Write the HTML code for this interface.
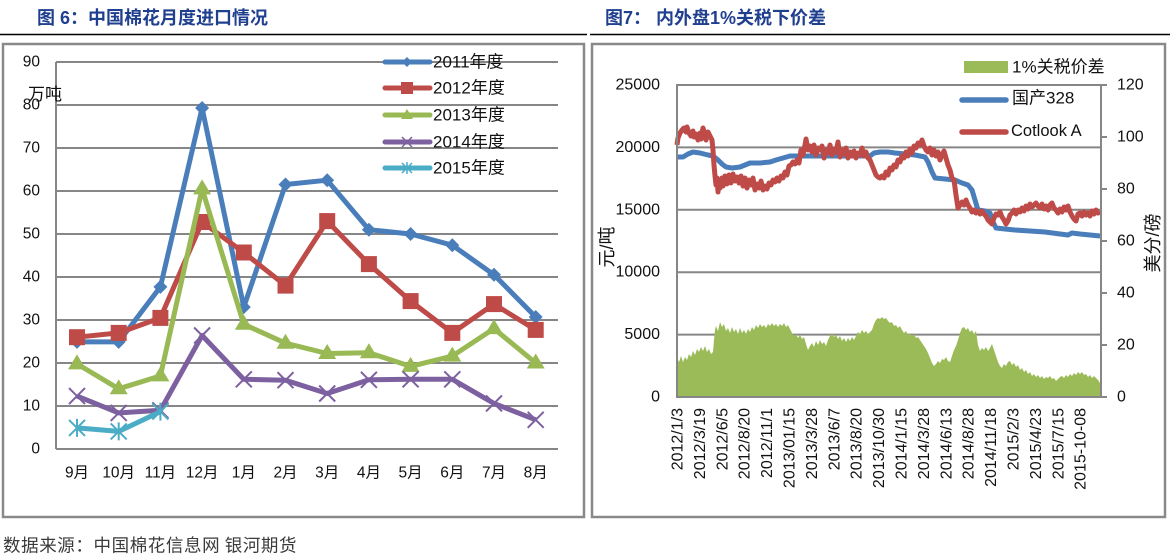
<!DOCTYPE html>
<html><head><meta charset="utf-8"><style>
html,body{margin:0;padding:0;background:#fff;}
body{width:1170px;height:556px;overflow:hidden;}
svg{display:block;}
text{font-family:"Liberation Sans","Noto Sans CJK SC",sans-serif;fill:#111;}
.t{font-size:18px;font-weight:bold;fill:#1f3f8f;}
.tk{font-size:15.5px;}
.tk2{font-size:16px;}
.lg{font-size:17px;}
</style></head><body>
<svg width="1170" height="556" viewBox="0 0 1170 556" xmlns="http://www.w3.org/2000/svg">
<!-- titles -->
<text class="t" x="37" y="24" xml:space="preserve">图 6：中国棉花月度进口情况</text>
<text class="t" x="605" y="24" xml:space="preserve">图7： 内外盘1%关税下价差</text>
<line x1="0" y1="34.5" x2="587" y2="34.5" stroke="#000" stroke-width="1.6"/>
<line x1="590" y1="34.5" x2="1170" y2="34.5" stroke="#000" stroke-width="1.6"/>

<!-- LEFT CHART -->
<rect x="3" y="44" width="581" height="473" fill="#fff" stroke="#898989" stroke-width="2.5"/>
<g stroke="#868686" stroke-width="2">
<line x1="56" y1="449" x2="558" y2="449"/>
<line x1="56" y1="406" x2="558" y2="406"/>
<line x1="56" y1="363" x2="558" y2="363"/>
<line x1="56" y1="320" x2="558" y2="320"/>
<line x1="56" y1="277" x2="558" y2="277"/>
<line x1="56" y1="234" x2="558" y2="234"/>
<line x1="56" y1="191" x2="558" y2="191"/>
<line x1="56" y1="148" x2="558" y2="148"/>
<line x1="56" y1="105" x2="558" y2="105"/>
<line x1="56" y1="62" x2="558" y2="62"/>
<line x1="56" y1="62" x2="56" y2="449"/>
</g>
<g class="tk" text-anchor="end" dominant-baseline="central">
<text x="40" y="449">0</text><text x="40" y="406">10</text><text x="40" y="363">20</text>
<text x="40" y="320">30</text><text x="40" y="277">40</text><text x="40" y="234">50</text>
<text x="40" y="191">60</text><text x="40" y="148">70</text><text x="40" y="105">80</text>
<text x="40" y="62">90</text>
</g>
<text x="28" y="100" font-size="17">万吨</text>
<g class="tk" text-anchor="middle" dominant-baseline="central">
<text x="77" y="473">9月</text><text x="118.7" y="473">10月</text><text x="160.4" y="473">11月</text>
<text x="202.1" y="473">12月</text><text x="243.8" y="473">1月</text><text x="285.5" y="473">2月</text>
<text x="327.2" y="473">3月</text><text x="368.9" y="473">4月</text><text x="410.6" y="473">5月</text>
<text x="452.3" y="473">6月</text><text x="494" y="473">7月</text><text x="535.7" y="473">8月</text>
</g>

<!-- 2011 blue -->
<polyline fill="none" stroke="#4A7EBB" stroke-width="5" stroke-linejoin="round" points="77,341.9 118.7,341.9 160.4,286.9 202.1,108 243.8,307.1 285.5,184.5 327.2,180.2 368.9,229.7 410.6,234 452.3,245.2 494,274.8 535.7,317"/>
<g fill="#4A7EBB">
<path d="M77,334.9l7,7l-7,7l-7,-7z"/><path d="M118.7,334.9l7,7l-7,7l-7,-7z"/>
<path d="M160.4,279.9l7,7l-7,7l-7,-7z"/><path d="M202.1,101l7,7l-7,7l-7,-7z"/>
<path d="M243.8,300.1l7,7l-7,7l-7,-7z"/><path d="M285.5,177.5l7,7l-7,7l-7,-7z"/>
<path d="M327.2,173.2l7,7l-7,7l-7,-7z"/><path d="M368.9,222.7l7,7l-7,7l-7,-7z"/>
<path d="M410.6,227l7,7l-7,7l-7,-7z"/><path d="M452.3,238.2l7,7l-7,7l-7,-7z"/>
<path d="M494,267.8l7,7l-7,7l-7,-7z"/><path d="M535.7,310l7,7l-7,7l-7,-7z"/>
</g>
<!-- 2012 red -->
<polyline fill="none" stroke="#BE4B48" stroke-width="5" stroke-linejoin="round" points="77,337.2 118.7,332.9 160.4,317.9 202.1,222 243.8,252.5 285.5,285.6 327.2,221.1 368.9,264.1 410.6,301.1 452.3,332.9 494,304.1 535.7,329.9"/>
<g fill="#BE4B48">
<rect x="69" y="329.2" width="16" height="16"/><rect x="110.7" y="324.9" width="16" height="16"/>
<rect x="152.4" y="309.9" width="16" height="16"/><rect x="194.1" y="214" width="16" height="16"/>
<rect x="235.8" y="244.5" width="16" height="16"/><rect x="277.5" y="277.6" width="16" height="16"/>
<rect x="319.2" y="213.1" width="16" height="16"/><rect x="360.9" y="256.1" width="16" height="16"/>
<rect x="402.6" y="293.1" width="16" height="16"/><rect x="444.3" y="324.9" width="16" height="16"/>
<rect x="486" y="296.1" width="16" height="16"/><rect x="527.7" y="321.9" width="16" height="16"/>
</g>
<!-- 2013 green -->
<polyline fill="none" stroke="#98B954" stroke-width="5" stroke-linejoin="round" points="77,363.9 118.7,388.8 160.4,375.9 202.1,188.9 243.8,324.3 285.5,343.2 327.2,353.5 368.9,352.7 410.6,366.4 452.3,356.1 494,328.6 535.7,363"/>
<g fill="#98B954">
<path d="M77,354.4l9,15h-18z"/><path d="M118.7,379.3l9,15h-18z"/>
<path d="M160.4,366.4l9,15h-18z"/><path d="M202.1,179.4l9,15h-18z"/>
<path d="M243.8,314.8l9,15h-18z"/><path d="M285.5,333.7l9,15h-18z"/>
<path d="M327.2,344l9,15h-18z"/><path d="M368.9,343.2l9,15h-18z"/>
<path d="M410.6,356.9l9,15h-18z"/><path d="M452.3,346.6l9,15h-18z"/>
<path d="M494,319.1l9,15h-18z"/><path d="M535.7,353.5l9,15h-18z"/>
</g>
<!-- 2014 purple -->
<polyline fill="none" stroke="#7D60A0" stroke-width="5" stroke-linejoin="round" points="77,396.1 118.7,412.9 160.4,410.3 202.1,335.5 243.8,379.3 285.5,380.2 327.2,393.5 368.9,379.8 410.6,379.3 452.3,379.3 494,403.4 535.7,419.8"/>
<g stroke="#7D60A0" stroke-width="2" fill="none">
<path d="M69,388.1l16,16M85,388.1l-16,16"/><path d="M110.7,404.9l16,16M126.7,404.9l-16,16"/>
<path d="M152.4,402.3l16,16M168.4,402.3l-16,16"/><path d="M194.1,327.5l16,16M210.1,327.5l-16,16"/>
<path d="M235.8,371.3l16,16M251.8,371.3l-16,16"/><path d="M277.5,372.2l16,16M293.5,372.2l-16,16"/>
<path d="M319.2,385.5l16,16M335.2,385.5l-16,16"/><path d="M360.9,371.8l16,16M376.9,371.8l-16,16"/>
<path d="M402.6,371.3l16,16M418.6,371.3l-16,16"/><path d="M444.3,371.3l16,16M460.3,371.3l-16,16"/>
<path d="M486,395.4l16,16M502,395.4l-16,16"/><path d="M527.7,411.8l16,16M543.7,411.8l-16,16"/>
</g>
<!-- 2015 cyan -->
<polyline fill="none" stroke="#4BACC6" stroke-width="5" stroke-linejoin="round" points="77,427.9 118.7,431.4 160.4,411.6"/>
<g stroke="#4BACC6" stroke-width="2" fill="none">
<path d="M69,419.9l16,16M85,419.9l-16,16M77,418.9v18"/>
<path d="M110.7,423.4l16,16M126.7,423.4l-16,16M118.7,422.4v18"/>
<path d="M152.4,403.6l16,16M168.4,403.6l-16,16M160.4,402.6v18"/>
</g>
<!-- legend left -->
<g stroke-width="5" stroke-linecap="round">
<line x1="385" y1="62" x2="430" y2="62" stroke="#4A7EBB"/>
<line x1="385" y1="88" x2="430" y2="88" stroke="#BE4B48"/>
<line x1="385" y1="115" x2="430" y2="115" stroke="#98B954"/>
<line x1="385" y1="142" x2="430" y2="142" stroke="#7D60A0"/>
<line x1="385" y1="168" x2="430" y2="168" stroke="#4BACC6"/>
</g>
<path d="M407,57l5,5l-5,5l-5,-5z" fill="#4A7EBB"/>
<rect x="401" y="82" width="12" height="12" fill="#BE4B48"/>
<path d="M407,109l6,10h-12z" fill="#98B954"/>
<path d="M402,137l10,10M412,137l-10,10" stroke="#7D60A0" stroke-width="1.5"/>
<path d="M402,163l10,10M412,163l-10,10M407,162v12" stroke="#4BACC6" stroke-width="1.5"/>
<g class="lg" dominant-baseline="central">
<text x="433" y="62">2011年度</text><text x="433" y="88">2012年度</text>
<text x="433" y="115">2013年度</text><text x="433" y="142">2014年度</text>
<text x="433" y="168">2015年度</text>
</g>

<!-- RIGHT CHART -->
<rect x="592" y="44" width="573" height="473" fill="#fff" stroke="#898989" stroke-width="2.5"/>
<g stroke="#868686" stroke-width="2">
<line x1="677" y1="85" x2="1101" y2="85"/>
<line x1="677" y1="147.4" x2="1101" y2="147.4"/>
<line x1="677" y1="209.8" x2="1101" y2="209.8"/>
<line x1="677" y1="272.2" x2="1101" y2="272.2"/>
<line x1="677" y1="334.6" x2="1101" y2="334.6"/>
</g>
<!-- green area -->
<polygon fill="#9BBB59" points="677,358 679,362 681,356 683,362 685,357 687,360 689,354 691,357 693,351 695,355 697,349 699,352 701,347 703,351 705,346 707,352 709,349 711,354 713,352 714,340 715,330 716,326 718,331 720,322 722,327 724,324 726,331 728,328 730,333 732,327 734,332 736,329 738,334 740,328 742,333 744,330 746,334 748,329 750,332 752,327 754,330 756,325 758,328 760,324 762,327 764,325 766,328 768,324 770,326 772,323 774,326 776,324 778,327 780,324 782,326 784,323 786,327 788,325 790,329 792,333 794,336 796,334 798,338 800,335 802,339 804,337 806,344 808,350 810,346 812,343 814,347 816,341 818,345 820,340 822,344 824,342 826,346 828,340 830,336 832,333 834,337 836,335 838,339 840,336 842,341 844,338 846,342 848,338 850,341 852,337 854,340 856,336 858,332 860,334 862,330 864,333 866,331 868,334 870,332 872,330 874,324 876,320 878,318 880,319 882,317 884,319 886,318 888,321 890,323 892,322 894,326 896,325 898,328 900,326 902,330 904,333 906,331 908,335 910,333 912,336 914,334 916,338 918,337 920,340 922,343 924,346 926,349 928,353 930,358 932,363 934,366 936,364 938,361 940,363 942,359 944,360 946,357 948,361 950,362 952,356 954,350 956,346 958,340 960,333 962,328 964,327 966,330 968,328 970,332 972,330 974,334 976,331 978,345 980,351 982,348 984,350 986,347 988,351 990,348 992,344 994,350 996,356 998,362 1000,366 1002,368 1004,364 1006,366 1008,362 1010,361 1012,365 1014,363 1016,367 1018,365 1020,370 1022,368 1024,372 1026,370 1028,374 1030,372 1032,376 1034,374 1036,377 1038,375 1040,378 1042,376 1044,379 1046,377 1048,378 1050,376 1052,379 1054,378 1056,381 1058,379 1060,377 1062,376 1064,378 1066,375 1068,377 1070,374 1072,376 1074,373 1076,375 1078,372 1080,374 1082,372 1084,375 1086,374 1088,377 1090,375 1092,378 1094,376 1096,378 1098,380 1100,383 1100,397 677,397"/>
<!-- blue line 国产328 -->
<polyline fill="none" stroke="#4A7EBB" stroke-width="5" stroke-linejoin="round" points="677,157 683,157 688,154 693,152 700,153 708,155 713,156 718,160 722,164 726,167 732,168 740,167 745,165 750,163 760,163 770,162 776,160 783,158 790,156 800,156 820,156 840,156 860,156 870,156 874,153 880,152 888,152 895,153 905,154 915,155 925,157 928,162 932,172 935,178 945,179 955,180 962,183 968,185 972,190 975,200 978,210 985,211 990,213 993,222 996,228 1005,229 1015,230 1030,231 1045,232 1060,234 1068,235 1072,233 1080,234 1090,235 1100,236"/>
<!-- red line Cotlook A -->
<polyline fill="none" stroke="#BE4B48" stroke-width="5" stroke-linejoin="round" points="677,145 678,138 680,133 682,130 684,128 686,132 687,127 689,133 691,136 693,131 694,137 696,134 698,140 700,133 701,139 703,128 705,134 706,140 708,132 710,136 712,140 713,150 714,165 715,176 716,185 717,178 718,192 719,182 720,188 722,178 723,186 725,176 727,184 729,175 731,183 733,174 735,181 737,177 739,183 741,176 743,186 745,178 747,188 749,180 751,185 753,178 755,190 757,184 759,188 761,181 763,190 765,186 767,189 769,183 771,185 773,180 775,182 777,178 779,181 781,176 783,178 785,172 787,175 789,166 791,165 793,162 795,164 797,160 799,163 801,150 803,155 805,145 806,139 808,150 810,146 812,152 814,145 816,155 818,148 820,150 822,146 824,158 826,150 828,153 830,145 832,155 834,149 836,152 838,142 840,157 842,150 844,154 846,148 848,158 850,152 852,156 854,151 856,158 858,153 860,155 862,148 864,156 866,152 868,158 870,160 872,165 874,170 876,175 878,177 880,178 882,176 884,178 886,172 888,175 890,168 892,170 894,165 896,167 898,160 900,162 902,156 904,158 906,152 908,156 910,149 912,153 914,146 916,148 918,143 920,145 922,140 924,146 926,150 928,152 930,148 932,155 934,150 936,156 938,152 940,160 942,155 944,151 946,158 948,165 950,170 952,178 954,180 956,195 958,208 960,205 962,202 964,205 966,200 968,205 970,208 972,212 974,210 976,213 978,211 980,214 982,211 984,214 986,216 988,220 990,222 992,224 994,218 996,214 998,215 1000,212 1002,217 1004,220 1006,224 1008,221 1010,215 1012,213 1014,210 1016,214 1018,210 1020,212 1022,208 1024,211 1026,206 1028,209 1030,204 1032,207 1034,205 1036,203 1038,206 1040,208 1042,204 1044,209 1046,206 1048,210 1050,205 1052,203 1054,208 1056,210 1058,213 1060,209 1062,212 1064,207 1066,210 1068,206 1070,212 1072,216 1074,219 1076,221 1078,214 1080,213 1082,216 1084,212 1086,215 1088,213 1090,216 1092,211 1094,214 1096,210 1098,213 1100,212"/>
<!-- axes -->
<g stroke="#868686" stroke-width="2">
<line x1="677" y1="84" x2="677" y2="398"/>
<line x1="1101" y1="84" x2="1101" y2="398"/>
<line x1="676" y1="397" x2="1102" y2="397"/>
<line x1="1101" y1="85" x2="1107" y2="85"/>
<line x1="1101" y1="137" x2="1107" y2="137"/>
<line x1="1101" y1="189" x2="1107" y2="189"/>
<line x1="1101" y1="241" x2="1107" y2="241"/>
<line x1="1101" y1="293" x2="1107" y2="293"/>
<line x1="1101" y1="345" x2="1107" y2="345"/>
<line x1="1101" y1="397" x2="1107" y2="397"/>
</g>
<g class="tk2" text-anchor="end" dominant-baseline="central">
<text x="660" y="85">25000</text><text x="660" y="147.4">20000</text>
<text x="660" y="209.8">15000</text><text x="660" y="272.2">10000</text>
<text x="660" y="334.6">5000</text><text x="660" y="397">0</text>
</g>
<g class="tk2" dominant-baseline="central">
<text x="1117" y="85">120</text><text x="1117" y="137">100</text>
<text x="1117" y="189">80</text><text x="1117" y="241">60</text>
<text x="1117" y="293">40</text><text x="1117" y="345">20</text>
<text x="1117" y="397">0</text>
</g>
<text transform="translate(607,247) rotate(-90)" text-anchor="middle" dominant-baseline="central" font-size="18">元/吨</text>
<text transform="translate(1153,243) rotate(-90)" text-anchor="middle" dominant-baseline="central" font-size="18">美分/磅</text>
<!-- rotated x labels -->
<g class="tk2" text-anchor="end" dominant-baseline="central">
<text transform="translate(678,408) rotate(-90)">2012/1/3</text>
<text transform="translate(700.4,408) rotate(-90)">2012/3/19</text>
<text transform="translate(722.8,408) rotate(-90)">2012/6/5</text>
<text transform="translate(745.2,408) rotate(-90)">2012/8/20</text>
<text transform="translate(767.6,408) rotate(-90)">2012/11/1</text>
<text transform="translate(790,408) rotate(-90)">2013/01/15</text>
<text transform="translate(812.4,408) rotate(-90)">2013/3/28</text>
<text transform="translate(834.8,408) rotate(-90)">2013/6/7</text>
<text transform="translate(857.2,408) rotate(-90)">2013/8/20</text>
<text transform="translate(879.6,408) rotate(-90)">2013/10/30</text>
<text transform="translate(902,408) rotate(-90)">2014/1/15</text>
<text transform="translate(924.4,408) rotate(-90)">2014/3/28</text>
<text transform="translate(946.8,408) rotate(-90)">2014/6/13</text>
<text transform="translate(969.2,408) rotate(-90)">2014/8/28</text>
<text transform="translate(991.6,408) rotate(-90)">2014/11/18</text>
<text transform="translate(1014,408) rotate(-90)">2015/2/3</text>
<text transform="translate(1036.4,408) rotate(-90)">2015/4/23</text>
<text transform="translate(1058.8,408) rotate(-90)">2015/7/15</text>
<text transform="translate(1081.2,408) rotate(-90)">2015-10-08</text>
</g>
<!-- right legend -->
<rect x="964" y="61" width="44" height="12" fill="#9BBB59"/>
<line x1="962" y1="100" x2="1006" y2="100" stroke="#4A7EBB" stroke-width="5.5" stroke-linecap="round"/>
<line x1="962" y1="132" x2="1006" y2="132" stroke="#BE4B48" stroke-width="5.5" stroke-linecap="round"/>
<g class="lg" dominant-baseline="central">
<text x="1012" y="67">1%关税价差</text>
<text x="1012" y="98">国产328</text>
<text x="1011" y="131" font-size="16.5">Cotlook A</text>
</g>

<!-- source -->
<text x="3" y="545" dominant-baseline="central" font-size="17.5" style="font-family:'Noto Sans CJK SC',sans-serif;fill:#3a3a3a;letter-spacing:0.6px" xml:space="preserve">数据来源：中国棉花信息网 银河期货</text>
</svg>
</body></html>
